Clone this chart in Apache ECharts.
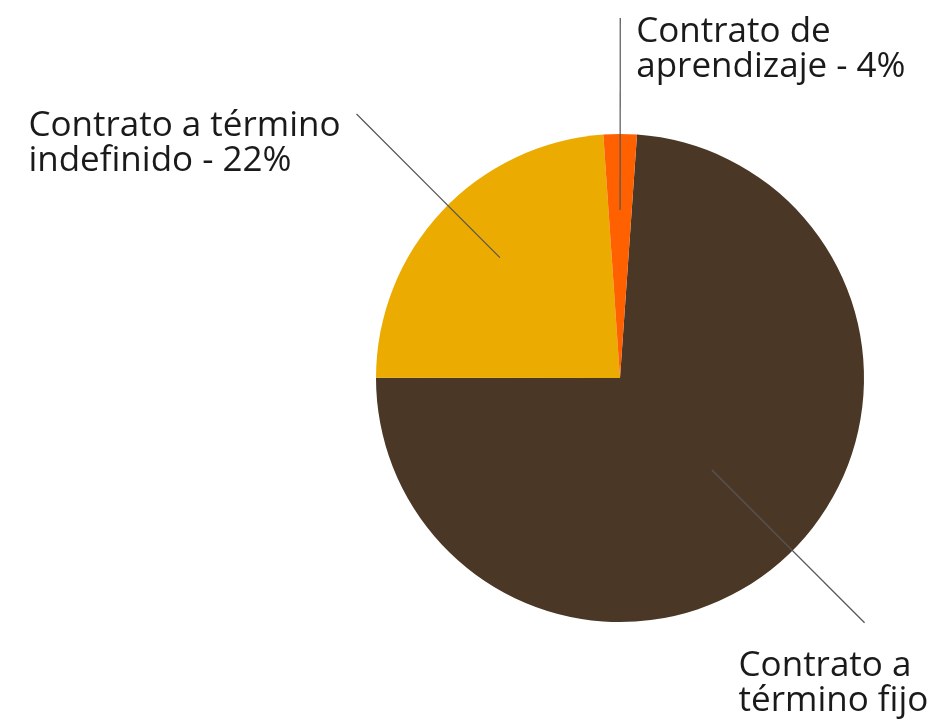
<!DOCTYPE html>
<html>
<head>
<meta charset="utf-8">
<script src="https://cdn.jsdelivr.net/npm/echarts@6/dist/echarts.min.js"></script>
<style>
  html, body { margin: 0; padding: 0; background: #fff; }
  #chart { width: 939px; height: 719px; }
</style>
</head>
<body>
<div id="chart"></div>
<script>
const categories = ['Contrato a término fijo', 'Contrato a término indefinido', 'Contrato de aprendizaje']
const values = [73.9, 23.9, 2.2]
const labelTexts = ['Contrato a\ntérmino fijo', 'Contrato a término\nindefinido - 22%', 'Contrato de\naprendizaje - 4%']
const colors = ['#4a3726', '#ecab00', '#ff6000']

const cx = 620, cy = 378, R = 244
const startAngle = 86

// leader line: start/end radius, small angle tweak, text offset from the end point
const leader = [
  { inner: 130, outer: 346, tilt: 2, dx: -126, dy: 26, side: 'left' },
  { inner: 170, outer: 373, tilt: -2, dx: -16, dy: -5, side: 'right' },
  { inner: 168, outer: 360, tilt: 0, dx: 16, dy: -3, side: 'left' }
]

const total = values.reduce((a, b) => a + b, 0)
const midAngles = []
let acc = 0
values.forEach(v => {
  midAngles.push(startAngle - (acc + v / 2) / total * 360)
  acc += v
})

function polar(r, deg) {
  const a = deg * Math.PI / 180
  return [cx + r * Math.cos(a), cy - r * Math.sin(a)]
}

const pieData = categories.map((name, i) => ({
  name: name,
  value: values[i],
  itemStyle: { color: colors[i] }
}))

const chart = echarts.init(document.getElementById('chart'))
chart.setOption({
  animation: false,
  series: [
    {
      type: 'pie',
      center: [cx, cy],
      radius: R,
      startAngle: startAngle,
      clockwise: true,
      silent: true,
      label: { show: false },
      labelLine: { show: false },
      data: pieData
    },
    // same pie again, invisible, only so labels and lines sit on top of the slices
    {
      type: 'pie',
      z: 5,
      center: [cx, cy],
      radius: R,
      startAngle: startAngle,
      clockwise: true,
      silent: true,
      avoidLabelOverlap: false,
      itemStyle: { color: 'rgba(0,0,0,0)' },
      label: {
        show: true,
        position: 'outside',
        color: '#1a1a1a',
        fontFamily: 'Open Sans',
        fontSize: 35,
        lineHeight: 35,
        align: 'left',
        formatter: p => labelTexts[p.dataIndex]
      },
      labelLine: {
        show: true,
        lineStyle: { color: '#555555', width: 1.2 }
      },
      labelLayout: function (params) {
        const i = params.dataIndex
        const l = leader[i]
        const ang = midAngles[i] + l.tilt
        const p0 = polar(l.inner, ang)
        const p1 = polar(l.outer, ang)
        let x = p1[0] + l.dx
        if (l.side === 'right') x -= params.labelRect.width
        return {
          x: x,
          y: p1[1] + l.dy,
          align: 'left',
          verticalAlign: 'top',
          labelLinePoints: [p0, p1, p1]
        }
      },
      data: categories.map((name, i) => ({
        name: name,
        value: values[i],
        itemStyle: { color: 'rgba(0,0,0,0)' }
      }))
    }
  ]
})
</script>
</body>
</html>
